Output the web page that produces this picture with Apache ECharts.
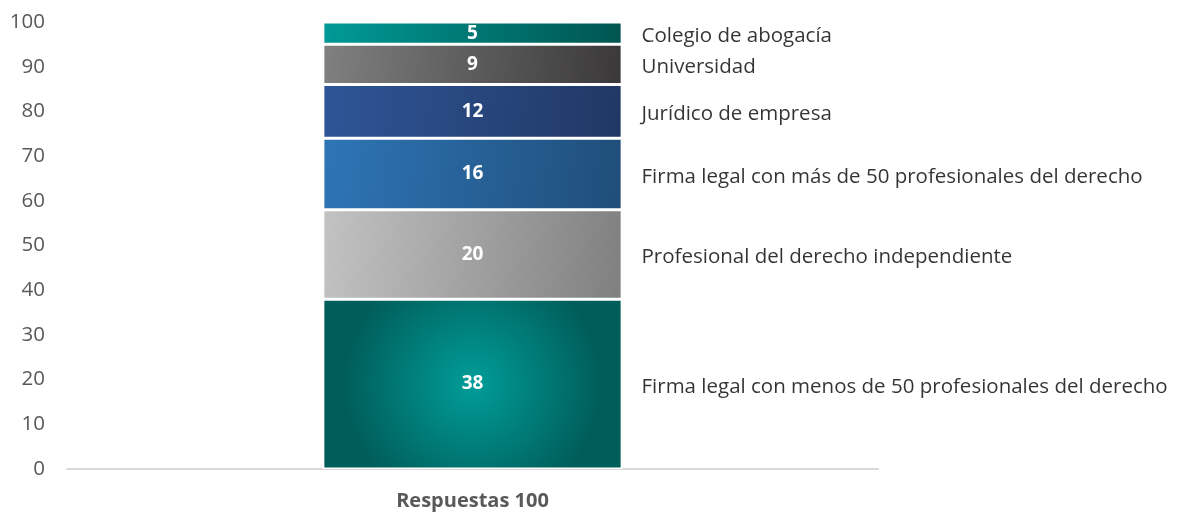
<!DOCTYPE html>
<html>
<head>
<meta charset="utf-8">
<script src="https://cdn.jsdelivr.net/npm/echarts@6/dist/echarts.min.js"></script>
<style>
html,body{margin:0;padding:0;background:#fff;}
#main{width:1184px;height:516px;}
</style>
</head>
<body>
<div id="main"></div>
<script>
// datos (de abajo hacia arriba)
var categorias = ['Respuestas 100'];
var nombres = [
	'Firma legal con menos de 50 profesionales del derecho',
	'Profesional del derecho independiente',
	'Firma legal con más de 50 profesionales del derecho',
	'Jurídico de empresa',
	'Universidad',
	'Colegio de abogacía'
];
var valores = [38, 20, 16, 12, 9, 5];
var ticksY = [0, 10, 20, 30, 40, 50, 60, 70, 80, 90, 100];

var colores = [
	new echarts.graphic.RadialGradient(0.5, 0.5, 0.75, [
		{offset: 0, color: '#009d99'}, {offset: 1, color: '#005e5a'}]),
	new echarts.graphic.LinearGradient(0, 0.3, 1, 0.7, [
		{offset: 0, color: '#c2c2c2'}, {offset: 1, color: '#808080'}]),
	new echarts.graphic.LinearGradient(0, 0.3, 1, 0.7, [
		{offset: 0, color: '#2e75b6'}, {offset: 1, color: '#1f4e79'}]),
	new echarts.graphic.LinearGradient(0, 0.3, 1, 0.7, [
		{offset: 0, color: '#2f5597'}, {offset: 1, color: '#203864'}]),
	new echarts.graphic.LinearGradient(0, 0.3, 1, 0.7, [
		{offset: 0, color: '#808080'}, {offset: 1, color: '#3a3838'}]),
	new echarts.graphic.LinearGradient(0, 0.3, 1, 0.7, [
		{offset: 0, color: '#009a96'}, {offset: 1, color: '#005550'}])
];

var chart = echarts.init(document.getElementById('main'));
var series = [];
var acumulado = 0;
var puntos = [];
for (var i = 0; i < valores.length; i++) {
	series.push({
		name: nombres[i],
		type: 'bar',
		stack: 'total',
		barWidth: '36.9%',
		data: [valores[i]],
		itemStyle: {color: colores[i], borderColor: '#ffffff', borderWidth: 1.5},
		label: {
			show: true,
			position: 'inside',
			color: '#ffffff',
			fontWeight: 'bold',
			fontSize: 19,
			fontFamily: 'Open Sans'
		}
	});
	puntos.push({value: [categorias[0], acumulado + valores[i] / 2], nombre: nombres[i]});
	acumulado += valores[i];
}
// nombres a la derecha de la barra
series.push({
	type: 'scatter',
	symbolSize: 0,
	data: puntos,
	silent: true,
	label: {
		show: true,
		position: 'right',
		distance: 169,
		offset: [0, 3],
		color: '#000000',
		fontSize: 20.5,
		fontFamily: 'Open Sans',
		formatter: function(p) { return p.data.nombre; }
	}
});

var option = {
	backgroundColor: '#ffffff',
	animation: false,
	grid: {left: 67, right: 306, top: 22, bottom: 47},
	xAxis: {
		type: 'category',
		data: categorias,
		axisLine: {lineStyle: {color: '#d9d9d9', width: 2}},
		axisTick: {show: false},
		axisLabel: {
			color: '#595959',
			fontWeight: 'bold',
			fontSize: 20,
			fontFamily: 'Open Sans',
			margin: 22
		}
	},
	yAxis: {
		type: 'value',
		min: ticksY[0],
		max: ticksY[ticksY.length - 1],
		interval: 10,
		splitLine: {show: false},
		axisLine: {show: false},
		axisTick: {show: false},
		axisLabel: {
			color: '#595959',
			fontSize: 20.5,
			fontFamily: 'Open Sans',
			margin: 22
		}
	},
	series: series
};
chart.setOption(option);
</script>
</body>
</html>
